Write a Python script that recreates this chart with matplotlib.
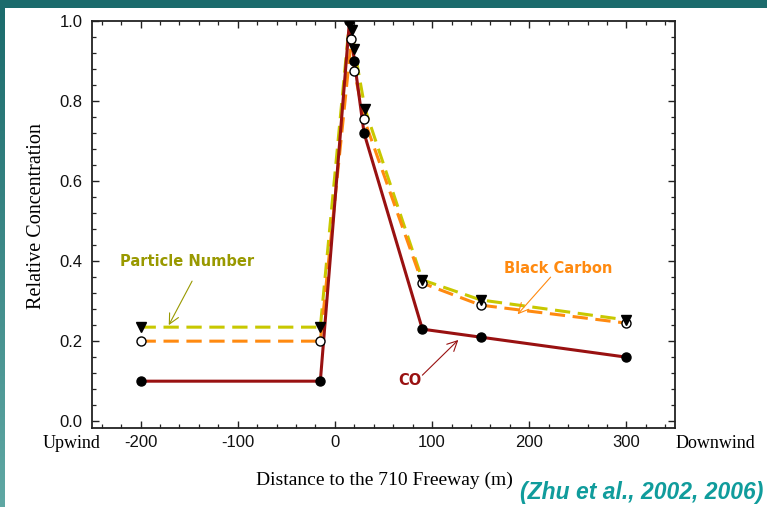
import numpy as np
import matplotlib
matplotlib.use("Agg")
import matplotlib.pyplot as plt
from matplotlib.patches import Rectangle
from matplotlib.ticker import MultipleLocator

# distances (m) and relative concentrations
co_x = [-200, -15, 15, 20, 30, 90, 150, 300]
co_y = [0.10, 0.10, 1.00, 0.90, 0.72, 0.23, 0.21, 0.16]

bc_x = [-200, -15, 17, 20, 30, 90, 150, 300]
bc_y = [0.20, 0.20, 0.955, 0.875, 0.755, 0.345, 0.29, 0.245]

pn_x = [-200, -15, 15, 18, 20, 31, 90, 150, 300]
pn_y = [0.235, 0.235, 1.00, 0.977, 0.93, 0.78, 0.353, 0.303, 0.253]

x_ticks = [-200, -100, 0, 100, 200, 300]
y_ticks = [0.0, 0.2, 0.4, 0.6, 0.8, 1.0]

plt.rcParams["axes.unicode_minus"] = False

W, H = 767, 507
fig = plt.figure(figsize=(W / 100, H / 100), dpi=100)
fig.patch.set_facecolor("white")

# teal frame: top bar and a gradient strip on the left
fig.patches.append(Rectangle((0, 1 - 8 / H), 1, 8 / H, transform=fig.transFigure,
                             facecolor="#1b6b6c", edgecolor="none", zorder=0))
strip = fig.add_axes([0, 0, 5 / W, 1 - 8 / H])
grad = np.linspace(0, 1, 256).reshape(-1, 1)
top_c = np.array([0x1b, 0x6b, 0x6c]) / 255
bot_c = np.array([0x60, 0xa8, 0xa4]) / 255
img = top_c + grad[..., None] * (bot_c - top_c)
strip.imshow(img, aspect="auto", extent=[0, 1, 0, 1])
strip.set_axis_off()

ax = fig.add_axes([92 / W, 1 - 428 / H, (675 - 92) / W, (428 - 21) / H])

pn_col = "#c8c800"
bc_col = "#ff8a10"
co_col = "#991111"

ax.plot(pn_x, pn_y, color=pn_col, lw=2.2, dashes=(5, 2.5), zorder=2)
ax.plot(bc_x, bc_y, color=bc_col, lw=2.2, dashes=(5, 2.5), zorder=2)
ax.plot(co_x, co_y, color=co_col, lw=2.2, zorder=3)

ax.plot(co_x, co_y, ls="none", marker="o", ms=6.5, mfc="black", mec="black", zorder=5)
ax.plot(bc_x, bc_y, ls="none", marker="o", ms=6.5, mfc="white", mec="black", mew=1.0, zorder=5)
ax.plot(pn_x, pn_y, ls="none", marker="v", ms=7.5, mfc="black", mec="black", zorder=6)

ax.set_xlim(-250, 350)
ax.set_ylim(-0.017, 1.0)
ax.set_xticks(x_ticks)
ax.set_yticks(y_ticks)
ax.set_xticklabels([str(v) for v in x_ticks])
ax.set_yticklabels([f"{v:.1f}" for v in y_ticks])
ax.xaxis.set_minor_locator(MultipleLocator(20))
ax.yaxis.set_minor_locator(MultipleLocator(0.04))

tick_font = ["Liberation Sans Narrow", "DejaVu Sans Condensed", "Liberation Sans"]
ax.tick_params(which="both", direction="in", top=True, right=True, color="#222222")
ax.tick_params(which="major", length=5, width=1.0)
ax.tick_params(which="minor", length=3, width=0.9)
ax.tick_params(axis="x", pad=5)
ax.tick_params(axis="y", pad=7)
for lab in ax.get_xticklabels() + ax.get_yticklabels():
    lab.set_family(tick_font)
    lab.set_fontsize(12)
    lab.set_color("#111111")
for s in ax.spines.values():
    s.set_linewidth(1.3)
    s.set_color("#222222")

serif = "Liberation Serif"
fig.text(72 / W, 1 - 443 / H, "Upwind", family=serif, fontsize=13, ha="center", va="center")
fig.text(715 / W, 1 - 443 / H, "Downwind", family=serif, fontsize=13, ha="center", va="center")
fig.text(384 / W, 1 - 480 / H, "Distance to the 710 Freeway (m)", family=serif,
         fontsize=14, ha="center", va="center")
fig.text(37 / W, 1 - 216 / H, "Relative Concentration", family=serif, fontsize=14.5,
         rotation=90, ha="center", va="center")

fig.text(0.995, 1 - 493 / H, "(Zhu et al., 2002, 2006)", family="Liberation Sans",
         fontsize=16.5, weight="bold", style="italic", color="#109c9c", ha="right", va="center")

arrow = dict(arrowstyle="->", lw=0.8, shrinkA=0, shrinkB=0, mutation_scale=18)
ax.annotate("", xy=(-171, 0.24), xytext=(-147, 0.35), xycoords="data",
            arrowprops=dict(arrow, color="#999900"))
ax.text(-152, 0.40, "Particle Number", color="#999900", fontsize=10.5, weight="bold",
        ha="center", va="center")

ax.annotate("", xy=(188, 0.267), xytext=(222, 0.36),
            arrowprops=dict(arrow, color=bc_col))
ax.text(230, 0.382, "Black Carbon", color=bc_col, fontsize=10.5, weight="bold",
        ha="center", va="center")

ax.annotate("", xy=(127, 0.203), xytext=(90, 0.115),
            arrowprops=dict(arrow, color=co_col))
ax.text(77, 0.102, "CO", color=co_col, fontsize=10.5, weight="bold",
        ha="center", va="center")

fig.savefig("out.png", dpi=100)
